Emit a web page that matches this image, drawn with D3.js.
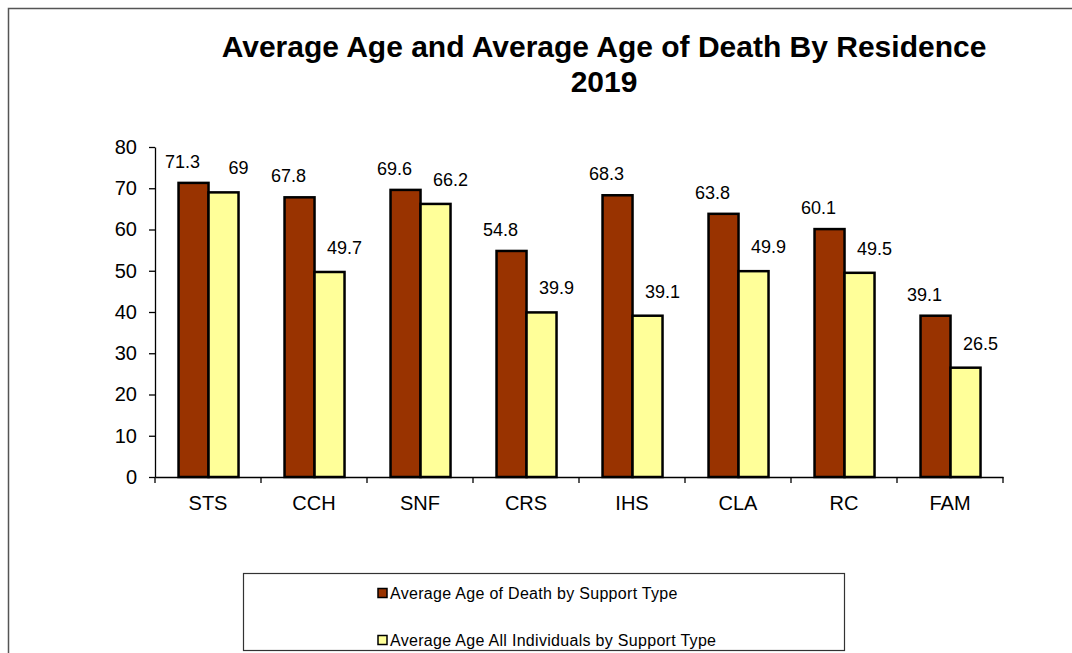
<!DOCTYPE html>
<html>
<head>
<meta charset="utf-8">
<script src="https://cdn.jsdelivr.net/npm/d3@7"></script>
<style>
  html, body { margin: 0; padding: 0; background: #fff; }
  svg { display: block; }
  text { font-family: "Liberation Sans", Arial, sans-serif; fill: #000; }
</style>
</head>
<body>
<svg id="chart" width="1072" height="653"></svg>
<script>
const categories = ["STS", "CCH", "SNF", "CRS", "IHS", "CLA", "RC", "FAM"];
const deathAge = [71.3, 67.8, 69.6, 54.8, 68.3, 63.8, 60.1, 39.1];
const allAge = [69, 49.7, 66.2, 39.9, 39.1, 49.9, 49.5, 26.5];
const seriesNames = ["Average Age of Death by Support Type", "Average Age All Individuals by Support Type"];
const yTicks = [0, 10, 20, 30, 40, 50, 60, 70, 80];
const titleLines = ["Average Age and Average Age of Death By Residence", "2019"];

const colors = ["#993300", "#FFFF99"];
const series = [deathAge, allAge];

const svg = d3.select("#chart");

// frame
svg.append("path")
  .attr("d", "M8.5,653 L8.5,8.5 L1072,8.5")
  .attr("fill", "none").attr("stroke", "#555").attr("stroke-width", 1.5);

// title
svg.append("g").selectAll("text").data(titleLines).join("text")
  .attr("x", 604).attr("y", (d, i) => 57 + i * 35)
  .attr("text-anchor", "middle")
  .attr("font-size", 30).attr("font-weight", "bold")
  .text(d => d);

const x0 = d3.scaleBand().domain(categories).range([155, 1003]).padding(0);
const x1 = d3.scaleBand().domain([0, 1])
  .range([x0.bandwidth() * 0.222, x0.bandwidth() * 0.788]).padding(0);
const y = d3.scaleLinear().domain([0, 80]).range([477, 147]);

// bars
const groups = svg.append("g").selectAll("g").data(categories).join("g")
  .attr("transform", d => `translate(${x0(d)},0)`);

groups.selectAll("rect")
  .data((c, i) => series.map((s, k) => ({ k, v: s[i] })))
  .join("rect")
  .attr("x", d => x1(d.k))
  .attr("width", x1.bandwidth())
  .attr("y", d => y(d.v))
  .attr("height", d => y(0) - y(d.v))
  .attr("fill", d => colors[d.k])
  .attr("stroke", "#000").attr("stroke-width", 2.5);

// data labels
const labelDx = [-11, 15];
const labelDy = [-15, -18];
groups.selectAll("text.lbl")
  .data((c, i) => series.map((s, k) => ({ k, v: s[i] })))
  .join("text").attr("class", "lbl")
  .attr("x", d => x1(d.k) + x1.bandwidth() / 2 + labelDx[d.k])
  .attr("y", d => y(d.v) + labelDy[d.k])
  .attr("text-anchor", "middle")
  .attr("font-size", 18)
  .attr("fill", "#222")
  .text(d => d.v);

// y axis
const yAxis = svg.append("g").attr("transform", "translate(155,0)")
  .call(d3.axisLeft(y).tickValues(yTicks).tickSize(6).tickPadding(12).tickSizeOuter(0));
yAxis.select(".domain").attr("stroke", "#000").attr("stroke-width", 1.3);
yAxis.selectAll(".tick line").attr("stroke", "#000").attr("stroke-width", 1.3);
yAxis.selectAll(".tick text").attr("font-size", 20).attr("font-family", "Liberation Sans, Arial, sans-serif").attr("fill", "#222");

// x axis
const xAxis = svg.append("g").attr("transform", "translate(0,477)")
  .call(d3.axisBottom(x0).tickSize(0).tickPadding(19));
xAxis.select(".domain").attr("stroke", "#000").attr("stroke-width", 1.3);
xAxis.selectAll(".tick text").attr("font-size", 20).attr("font-family", "Liberation Sans, Arial, sans-serif").attr("fill", "#222");
// boundary tick marks
const bounds = categories.map(c => x0(c)).concat([x0.range()[1]]);
xAxis.append("g").selectAll("line").data(bounds).join("line")
  .attr("x1", d => d).attr("x2", d => d).attr("y1", 0).attr("y2", 6)
  .attr("stroke", "#000").attr("stroke-width", 1.3);

// legend
const legend = svg.append("g");
legend.append("rect")
  .attr("x", 243.5).attr("y", 573.5).attr("width", 601).attr("height", 77)
  .attr("fill", "#fff").attr("stroke", "#333").attr("stroke-width", 1.2);
const items = legend.selectAll("g.item").data(seriesNames).join("g").attr("class", "item")
  .attr("transform", (d, i) => `translate(378,${593 + i * 47})`);
items.append("rect")
  .attr("x", 0).attr("y", -4.5).attr("width", 9).attr("height", 9)
  .attr("fill", (d, i) => colors[i]).attr("stroke", "#000").attr("stroke-width", 1.5);
items.append("text")
  .attr("x", 12).attr("y", 0).attr("dy", "0.35em")
  .attr("font-size", 16).attr("letter-spacing", 0.3).attr("fill", "#222")
  .text(d => d);
</script>
</body>
</html>
